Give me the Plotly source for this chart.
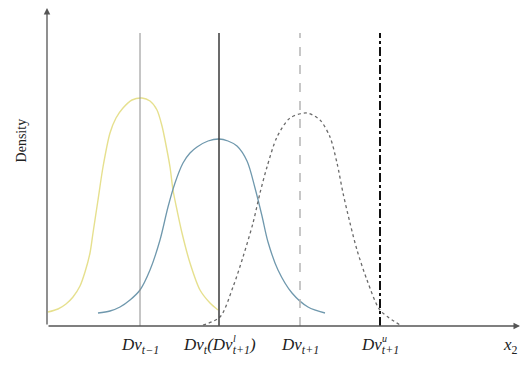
import plotly.graph_objects as go

# Coordinates in chart units (origin at the axes corner)
yellow_x = [1, 11, 19, 26, 33, 38, 43, 46, 51, 56, 63, 69, 76, 85, 95, 103, 110, 115, 118, 123, 126, 130, 135, 143, 153, 163, 171]
yellow_y = [14, 17, 22, 29, 40, 54, 73, 93, 126, 159, 193, 208, 218, 226, 228, 225, 216, 200, 186, 159, 136, 116, 93, 63, 36, 23, 16]

blue_x = [51, 63, 73, 83, 93, 103, 113, 121, 128, 136, 143, 150, 161, 172, 181, 190, 200, 208, 215, 221, 231, 245, 261, 278]
blue_y = [13, 15, 19, 26, 36, 56, 86, 119, 143, 163, 173, 179, 185, 187, 185, 180, 165, 138, 110, 84, 56, 33, 19, 13]

gray_x = [156, 173, 186, 196, 206, 213, 220, 230, 243, 260, 273, 283, 290, 296, 303, 310, 320, 333, 353]
gray_y = [1, 9, 39, 69, 103, 133, 159, 189, 208, 213, 206, 189, 163, 133, 103, 76, 46, 16, 1]

marker_x = [93, 172, 253, 333]
marker_top = 293
x_range = [0, 473]
y_range = [0, 318]

fig = go.Figure()
fig.add_trace(go.Scatter(x=yellow_x, y=yellow_y, mode="lines",
                         line=dict(color="#e6e08e", width=1.4, shape="spline", smoothing=0.8), hoverinfo="skip"))
fig.add_trace(go.Scatter(x=blue_x, y=blue_y, mode="lines",
                         line=dict(color="#6f98ad", width=1.3, shape="spline", smoothing=0.9), hoverinfo="skip"))
fig.add_trace(go.Scatter(x=gray_x, y=gray_y, mode="lines",
                         line=dict(color="#6a6a6a", width=1.3, dash="dot", shape="spline", smoothing=0.8), hoverinfo="skip"))

styles = [
    dict(color="#8c8c8c", width=1, dash="solid"),
    dict(color="#3a3a3a", width=1.5, dash="solid"),
    dict(color="#b5b5b5", width=1.5, dash="dash"),
    dict(color="#111111", width=2, dash="dashdot"),
]
for xv, st in zip(marker_x, styles):
    fig.add_shape(type="line", x0=xv, x1=xv, y0=0, y1=marker_top, xref="x", yref="y", line=st)

# axes with arrowheads
fig.add_annotation(x=x_range[1], y=0, ax=0, ay=0, xref="x", yref="y", axref="x", ayref="y",
                   text="", showarrow=True, arrowhead=2, arrowsize=1, arrowwidth=1.3, arrowcolor="#555")
fig.add_annotation(x=0, y=y_range[1], ax=0, ay=0, xref="x", yref="y", axref="x", ayref="y",
                   text="", showarrow=True, arrowhead=2, arrowsize=1, arrowwidth=1.3, arrowcolor="#555")

lab_font = dict(family="Liberation Serif", size=17, color="#222")
labels = [
    (93, "<i>Dv<sub>t−1</sub></i>"),
    (172, "<i>Dv<sub>t</sub>(Dv<sub>t+1</sub>)</i>"),
    (253, "<i>Dv<sub>t+1</sub></i>"),
    (333, "<i>Dv<sub>t+1</sub></i>"),
    (463, "<i>x</i><sub>2</sub>"),
]
for xv, t in labels:
    fig.add_annotation(x=xv, y=-0.063, xref="x", yref="paper", text=t, showarrow=False, font=lab_font,
                       xanchor="center", yanchor="middle")
sup_font = dict(family="Liberation Serif", size=10, color="#222")
fig.add_annotation(x=187, y=-0.038, xref="x", yref="paper", text="<i>l</i>", showarrow=False, font=sup_font,
                   xanchor="center", yanchor="middle")
fig.add_annotation(x=337, y=-0.038, xref="x", yref="paper", text="<i>u</i>", showarrow=False, font=sup_font,
                   xanchor="center", yanchor="middle")

fig.add_annotation(x=-0.072, y=0.585, xref="paper", yref="paper", text="Density", textangle=-90, showarrow=False,
                   font=dict(family="Liberation Serif", size=14, color="#222"))

fig.update_xaxes(range=x_range, showgrid=False, zeroline=False, showticklabels=False, ticks="", showline=False)
fig.update_yaxes(range=y_range, showgrid=False, zeroline=False, showticklabels=False, ticks="", showline=False)
fig.update_layout(width=522, height=371, margin=dict(l=47, r=2, t=8, b=45), showlegend=False,
                  plot_bgcolor="white", paper_bgcolor="white")
fig.write_html("out.html")
